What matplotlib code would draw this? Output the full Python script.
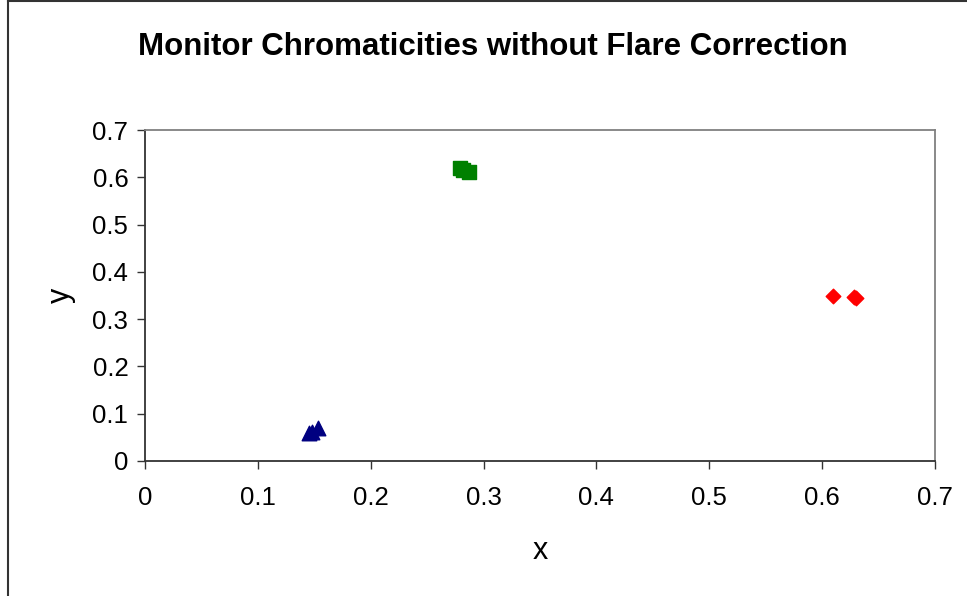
import matplotlib.pyplot as plt
from matplotlib.lines import Line2D

plt.rcParams['font.family'] = ['Liberation Sans', 'DejaVu Sans']

# datos
red_x = [0.610, 0.628, 0.630]
red_y = [0.350, 0.346, 0.345]
green_x = [0.279, 0.282, 0.287]
green_y = [0.620, 0.615, 0.611]
blue_x = [0.145, 0.148, 0.153]
blue_y = [0.059, 0.062, 0.070]

ticks = [0, 0.1, 0.2, 0.3, 0.4, 0.5, 0.6, 0.7]
tick_labels = ['0', '0.1', '0.2', '0.3', '0.4', '0.5', '0.6', '0.7']

fig = plt.figure(figsize=(9.67, 5.96), dpi=100)
ax = fig.add_axes([145/967, 1 - 461/596, 790/967, 331/596])

ax.scatter(red_x, red_y, marker='D', s=55, color='#ff0000', zorder=3, clip_on=False)
ax.scatter(green_x, green_y, marker='s', s=110, color='#008000', zorder=3, clip_on=False)
ax.scatter(blue_x, blue_y, marker='^', s=110, color='#000080', zorder=3, clip_on=False)

ax.set_xlim(0, 0.7)
ax.set_ylim(0, 0.7)
ax.set_xticks(ticks)
ax.set_xticklabels(tick_labels)
ax.set_yticks(ticks)
ax.set_yticklabels(tick_labels)
ax.tick_params(direction='out', length=6, width=1, labelsize=18.5, color='#333333', pad=6)
ax.tick_params(axis='x', pad=12)

for side in ['top', 'right']:
    ax.spines[side].set_color('#808080')
for side in ['left', 'bottom']:
    ax.spines[side].set_color('#333333')
for s in ax.spines.values():
    s.set_linewidth(1.3)

ax.set_xlabel('x', fontsize=22, labelpad=19)
ax.set_ylabel('y', fontsize=22, labelpad=12)
fig.text(493/967, 1 - 47/596, 'Monitor Chromaticities without Flare Correction',
         ha='center', va='center', fontsize=22.5, fontweight='bold')

# borde del grafico
fig.add_artist(Line2D([8/967, 8/967], [0, 1 - 1/596], color='#333333', lw=1.5))
fig.add_artist(Line2D([8/967, 1], [1 - 1/596, 1 - 1/596], color='#333333', lw=1.5))

fig.savefig('out.png', dpi=100)
